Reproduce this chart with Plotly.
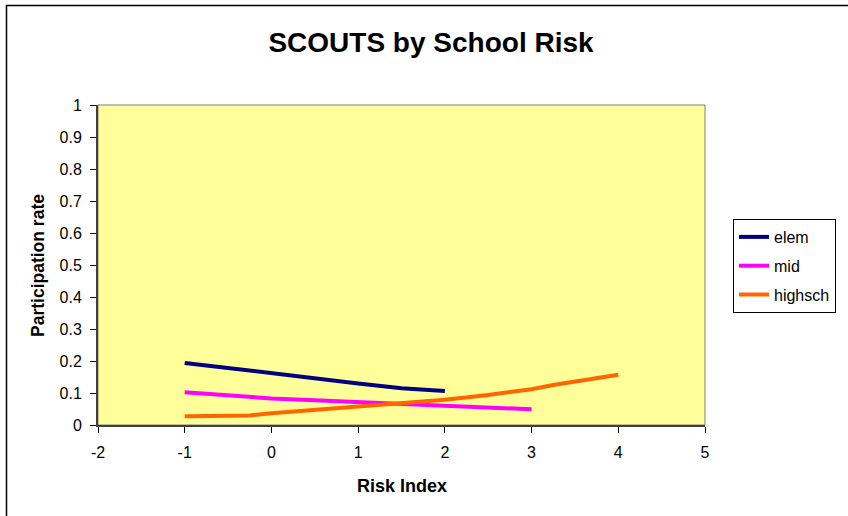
import plotly.graph_objects as go

# Data
elem_x = [-1, -0.5, 0, 0.5, 1, 1.5, 2]
elem_y = [0.194, 0.178, 0.159, 0.144, 0.130, 0.115, 0.106]

mid_x = [-1, -0.5, 0, 0.5, 1, 1.5, 2, 2.5, 3]
mid_y = [0.102, 0.092, 0.083, 0.077, 0.071, 0.065, 0.060, 0.054, 0.049]

highsch_x = [-1, -0.25, 0, 0.5, 1, 1.5, 2, 2.5, 3, 3.25, 4]
highsch_y = [0.027, 0.030, 0.037, 0.047, 0.057, 0.066, 0.079, 0.094, 0.112, 0.125, 0.157]

x_ticks = [-2, -1, 0, 1, 2, 3, 4, 5]
y_ticks = [0, 0.1, 0.2, 0.3, 0.4, 0.5, 0.6, 0.7, 0.8, 0.9, 1]
y_tick_labels = ["0", "0.1", "0.2", "0.3", "0.4", "0.5", "0.6", "0.7", "0.8", "0.9", "1"]

series = [
    ("elem", elem_x, elem_y, "#000080"),
    ("mid", mid_x, mid_y, "#FF00FF"),
    ("highsch", highsch_x, highsch_y, "#FF6600"),
]

FONT = "Liberation Sans, Arial, sans-serif"

fig = go.Figure()
for name, xs, ys, col in series:
    fig.add_trace(go.Scatter(
        x=xs, y=ys, name=name, mode="lines",
        line=dict(color=col, width=4),
        legendgroup=name,
    ))

W, H = 848, 516
L, R, T, B = 98, 705, 105, 425
pw, ph = R - L, B - T

def px(xp):
    return (xp - L) / pw

def py(yp):
    return (B - yp) / ph

fig.update_layout(
    width=W, height=H,
    margin=dict(l=L, r=W - R, t=T, b=H - B, pad=0),
    paper_bgcolor="white",
    plot_bgcolor="#FFFF99",
    font=dict(family=FONT, size=16, color="black"),
    title=dict(text="<b>SCOUTS by School Risk</b>", x=431 / W, xanchor="center",
               y=1 - 42 / H, yanchor="middle",
               font=dict(family=FONT, size=28, color="black")),
    showlegend=True,
    legend=dict(x=px(733), xanchor="left", y=py(219), yanchor="top",
                bordercolor="black", borderwidth=1, bgcolor="white",
                font=dict(family=FONT, size=16, color="black"),
                tracegroupgap=5, traceorder="grouped", entrywidth=68),
    xaxis=dict(range=[-2, 5], tickvals=x_ticks, ticktext=[str(v) for v in x_ticks],
               showgrid=False, zeroline=False, showline=True, linecolor="#404040",
               linewidth=2, ticks="outside", ticklen=6, tickcolor="black", tickwidth=1,
               ticklabelstandoff=6,
               tickfont=dict(family=FONT, size=16, color="black"), fixedrange=True),
    yaxis=dict(range=[0, 1], tickvals=y_ticks, ticktext=y_tick_labels,
               showgrid=False, zeroline=False, showline=True, linecolor="#404040",
               linewidth=2, ticks="outside", ticklen=6, tickcolor="black", tickwidth=1,
               ticklabelstandoff=5,
               tickfont=dict(family=FONT, size=16, color="black"), fixedrange=True),
    annotations=[
        dict(text="<b>Risk Index</b>", xref="paper", yref="paper",
             x=0.5, y=py(486), xanchor="center", yanchor="middle", showarrow=False,
             font=dict(family=FONT, size=18, color="black")),
        dict(text="<b>Participation rate</b>", xref="paper", yref="paper",
             x=px(38), y=py(266), xanchor="center", yanchor="middle", showarrow=False,
             textangle=-90, font=dict(family=FONT, size=17.5, color="black")),
    ],
    shapes=[
        # plot area border (gray)
        dict(type="rect", xref="paper", yref="paper", x0=0, x1=1, y0=0, y1=1,
             line=dict(color="#808080", width=1), layer="below"),
        # outer chart border (left & top visible)
        dict(type="rect", xref="paper", yref="paper",
             x0=px(6.5), x1=px(860), y0=py(530), y1=py(5.5),
             line=dict(color="black", width=1.5)),
    ],
)

fig.write_html("out.html", config={"displayModeBar": False},
               post_script="document.body.style.margin='0';")
